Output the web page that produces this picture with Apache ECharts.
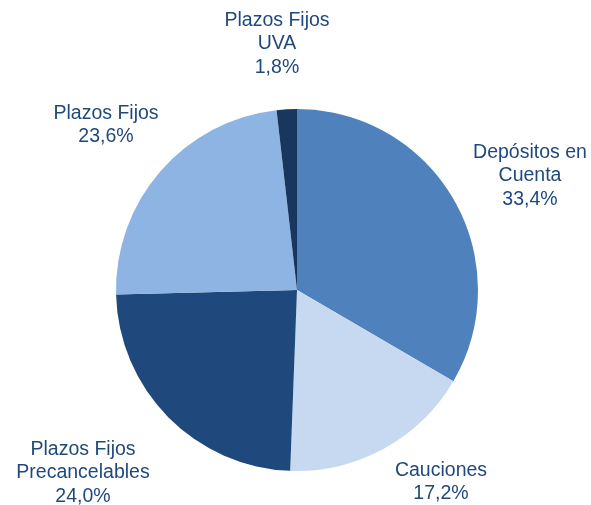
<!DOCTYPE html>
<html>
<head>
<meta charset="utf-8">
<script src="https://cdn.jsdelivr.net/npm/echarts@6/dist/echarts.min.js"></script>
<style>
  html, body { margin: 0; padding: 0; background: #ffffff; }
  #chart { width: 591px; height: 505px; }
</style>
</head>
<body>
<div id="chart"></div>
<script>
// Portfolio composition by instrument (share of total, %)
const categories = [
  'Depósitos en\nCuenta',
  'Cauciones',
  'Plazos Fijos\nPrecancelables',
  'Plazos Fijos',
  'Plazos Fijos\nUVA'
];
const shares = [33.4, 17.2, 24.0, 23.6, 1.8];
const sliceColors = ['#4F81BD', '#C6D9F1', '#1F497D', '#8EB4E3', '#17375E'];

// Label anchor points (centre of each text block), in pixels
const labelCentres = [
  [530, 176],
  [441, 482],
  [83, 473],
  [106, 125],
  [277, 44]
];

const fmt = v => v.toFixed(1).replace('.', ',') + '%';

const chart = echarts.init(document.getElementById('chart'), null, { renderer: 'canvas' });

chart.setOption({
  animation: false,
  backgroundColor: '#ffffff',
  series: [{
    type: 'pie',
    center: [297, 290],
    radius: [0, 181],
    startAngle: 90,
    clockwise: true,
    silent: true,
    data: categories.map((name, i) => ({
      name: name,
      value: shares[i],
      itemStyle: { color: sliceColors[i] }
    })),
    itemStyle: { borderWidth: 0 },
    label: {
      show: true,
      position: 'outside',
      formatter: p => p.name + '\n' + fmt(p.value),
      fontFamily: '"Liberation Sans", Arial, sans-serif',
      fontSize: 19.5,
      lineHeight: 23.5,
      color: '#1F497D',
      align: 'center',
      verticalAlign: 'middle',
      overflow: 'none',
      width: 200
    },
    labelLine: { show: false },
    labelLayout: function (params) {
      const c = labelCentres[params.dataIndex];
      return { x: c[0], y: c[1], align: 'center', verticalAlign: 'middle' };
    }
  }]
});
</script>
</body>
</html>
